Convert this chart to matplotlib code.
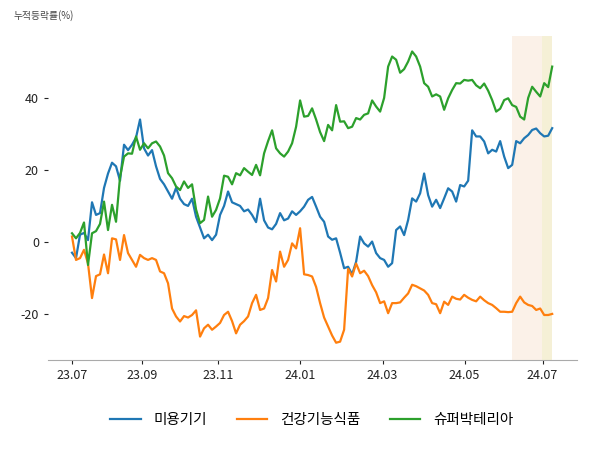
import matplotlib
matplotlib.use('Agg')
import matplotlib.pyplot as plt
import numpy as np

plt.rcParams['font.family'] = ['Noto Sans CJK KR', 'DejaVu Sans']
plt.rcParams['axes.unicode_minus'] = False

# 누적등락률(%) values, one point every few trading days
beauty = [-3, -4.5, 2, 2.5, 0.5, 11, 7.5, 8, 15, 19,
          22, 21, 17, 27, 25.5, 27, 29, 34, 26, 24,
          25.5, 21, 17.5, 16, 14, 12, 15, 12, 10.5, 10,
          12, 7, 4, 1, 2, 0.5, 2, 7.5, 10, 14,
          11, 10.5, 10, 8.5, 9, 7.5, 5.5, 12, 6, 4,
          3.5, 5, 8, 6, 6.5, 8.5, 7.5, 8.5, 9.8, 11.7,
          12.5, 9.8, 7, 5.6, 1.5, 0.6, 1, -3, -7.3, -6.9,
          -9, -5.5, 1.5, -0.4, -1.3, 0.1, -3.1, -4.5, -5, -6.9,
          -5.9, 3.3, 4.3, 1.9, 6.1, 12.1, 11.2, 13.5, 19, 13,
          9.8, 11.7, 9.4, 12.1, 14.9, 14, 11.2, 15.8, 15.4, 17,
          31, 29.3, 29.3, 27.9, 24.6, 25.6, 25.1, 28, 23.7, 20.5,
          21.4, 28, 27.4, 28.8, 29.7, 31.1, 31.5, 30.2, 29.3, 29.5,
          31.6]
health = [1.5, -5, -4.5, -2.2, -6, -15.6, -9.5, -9, -3.5, -8.7,
          1, 0.7, -5, 1.9, -3.1, -5, -6.9, -3.6, -4.5, -5,
          -4.5, -5, -8.2, -8.7, -11.5, -18.5, -20.7, -22.1, -20.6, -21,
          -20.3, -19, -26.3, -24, -23, -24.4, -23.5, -22.5, -20.3, -19.4,
          -22, -25.4, -23, -22, -20.7, -17, -14.7, -18.9, -18.5, -15.6,
          -7.8, -11, -2.7, -6.9, -5, -0.4, -1.8, 3.8, -9, -9.2,
          -9.6, -12.5, -17, -21, -23.5, -26, -28, -27.7, -24.4, -7.5,
          -9.6, -6, -8.7, -8, -9.5, -12, -14, -17, -16.5, -19.8,
          -17, -17, -16.8, -15.5, -14.3, -11.9, -12.3, -12.9, -13.5, -14.7,
          -17, -17.3, -19.8, -16.6, -17.5, -15.2, -15.8, -16, -14.7, -15.5,
          -16.1, -16.5, -15.2, -16.2, -17, -17.5, -18.4, -19.4, -19.4, -19.5,
          -19.4, -17, -15.2, -16.8, -17.5, -17.8, -18.9, -18.5, -20.3, -20.3,
          -20]
superbug = [2.4, 1, 2.5, 5.4, -6.4, 2.4, 3, 5, 11.2, 3.3,
            10.3, 5.6, 18, 23.7, 24.6, 24.5, 29.3, 25.6, 27.4, 26,
            27.4, 27.9, 26.5, 24, 19.1, 17.7, 15.4, 14.4, 16.8, 15,
            16, 9, 5.2, 6.1, 12.6, 7, 8.9, 12.1, 18.4, 18.1,
            16, 19.1, 18.5, 20.5, 19.5, 18.6, 21.4, 18.5, 24.6, 28,
            31, 26, 24.6, 23.7, 25.1, 27.4, 32, 39.3, 34.8, 35,
            37.1, 34, 30.5, 28, 32.5, 31, 38, 33.4, 33.5, 31.6,
            32, 34.4, 34, 35.3, 35.7, 39.3, 37.6, 36.2, 40, 48.7,
            51.5, 50.6, 47, 48, 50.1, 52.9, 51.5, 48.7, 44.1, 43.1,
            40.4, 41, 40.4, 36.7, 39.9, 42.2, 44.1, 44, 45, 44.8,
            45, 43.5, 42.7, 44, 42, 39.4, 36.2, 37, 39.4, 39.9,
            38, 37.5, 34.8, 34, 40, 43.1, 41.7, 40.4, 44.1, 43,
            48.7]

series_names = ['미용기기', '건강기능식품', '슈퍼박테리아']
series_colors = ['#1f77b4', '#ff7f0e', '#2ca02c']

tick_pos = [0, 17.6, 36.6, 57.1, 77.6, 98.1, 117.6]
tick_labels = ['23.07', '23.09', '23.11', '24.01', '24.03', '24.05', '24.07']

x = np.arange(len(beauty))

fig = plt.figure(figsize=(6, 4.5), dpi=100)
ax = fig.add_axes([0.08, 0.2, 0.882, 0.72])

# highlighted recent periods
ax.axvspan(110, 117.5, color='#fbf1e8', lw=0)
ax.axvspan(117.5, 120, color='#f5f0d6', lw=0)

for vals, name, c in zip([beauty, health, superbug], series_names, series_colors):
    ax.plot(x, vals, color=c, lw=1.6, label=name)

ax.set_xlim(-6, 126.25)
ax.set_ylim(-32.8, 57.2)
ax.set_xticks(tick_pos)
ax.set_xticklabels(tick_labels)
ax.set_yticks([-20, 0, 20, 40])
ax.tick_params(axis='both', labelsize=9, length=3, colors='#222222')

for s in ['top', 'right', 'left']:
    ax.spines[s].set_visible(False)
ax.spines['bottom'].set_color('#aaaaaa')

fig.text(0.022, 0.965, '누적등락률(%)', fontsize=7, color='#444444', va='center')

fig.legend(loc='center', bbox_to_anchor=(0.52, 0.067), ncol=3, frameon=False,
           fontsize=10.5, handlelength=2.1, columnspacing=2.0, handletextpad=0.9)

fig.savefig('out.png', dpi=100)
